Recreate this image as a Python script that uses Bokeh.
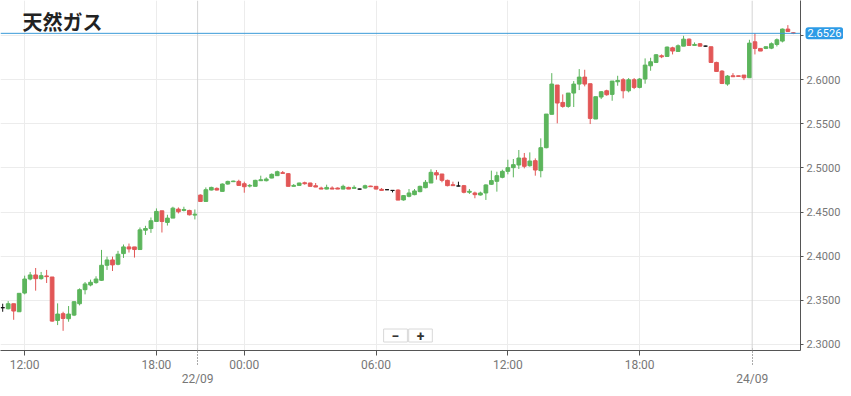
from bokeh.plotting import figure
from bokeh.models import (Range1d, FixedTicker, NumeralTickFormatter, Span, Label,
                          ColumnDataSource, LinearAxis)
from bokeh.embed import file_html
from bokeh.resources import INLINE

# ---- data (15-minute candles) ----
opens = [2.3417, 2.3405, 2.3462, 2.3371, 2.3583, 2.3742, 2.3788, 2.3746, 2.3777, 2.3765,
         2.3273, 2.3349, 2.3292, 2.3333, 2.3462, 2.3621, 2.3674, 2.3701, 2.3727, 2.3898,
         2.3958, 2.3909, 2.4030, 2.4106, 2.4106, 2.4076, 2.4295, 2.4314, 2.4394, 2.4515,
         2.4383, 2.4432, 2.4534, 2.4519, 2.4519, 2.4466, 2.4693, 2.4621, 2.4750, 2.4769,
         2.4735, 2.4818, 2.4845, 2.4848, 2.4822, 2.4795, 2.4792, 2.4856, 2.4856, 2.4886,
         2.4913, 2.4947, 2.4936, 2.4792, 2.4803, 2.4833, 2.4830, 2.4799, 2.4773, 2.4761,
         2.4773, 2.4773, 2.4761, 2.4780, 2.4769, 2.4761, 2.4773, 2.4795, 2.4792, 2.4758,
         2.4754, 2.4746, 2.4750, 2.4638, 2.4679, 2.4698, 2.4732, 2.4777, 2.4830, 2.4947,
         2.4932, 2.4860, 2.4811, 2.4796, 2.4800, 2.4725, 2.4717, 2.4694, 2.4717, 2.4815,
         2.4849, 2.4894, 2.4962, 2.5004, 2.5034, 2.5113, 2.5026, 2.5083, 2.4970, 2.5230,
         2.5608, 2.5940, 2.5743, 2.5698, 2.5849, 2.5951, 2.6030, 2.5955, 2.5555, 2.5804,
         2.5875, 2.5834, 2.5977, 2.6000, 2.5875, 2.6000, 2.5913, 2.6008, 2.6158, 2.6196,
         2.6272, 2.6264, 2.6362, 2.6321, 2.6381, 2.6460, 2.6389, 2.6408, 2.6381, 2.6374,
         2.6196, 2.6098, 2.5951, 2.6045, 2.6045, 2.6053, 2.6023, 2.6430, 2.6355, 2.6355,
         2.6358, 2.6400, 2.6438, 2.6574, 2.6532]
highs = [2.3462, 2.3492, 2.3462, 2.3580, 2.3780, 2.3822, 2.3867, 2.3822, 2.3845, 2.3765,
         2.3466, 2.3371, 2.3436, 2.3492, 2.3636, 2.3708, 2.3735, 2.3773, 2.4072, 2.3996,
         2.3996, 2.4061, 2.4133, 2.4144, 2.4106, 2.4326, 2.4345, 2.4439, 2.4542, 2.4515,
         2.4470, 2.4561, 2.4553, 2.4561, 2.4527, 2.4530, 2.4701, 2.4780, 2.4788, 2.4780,
         2.4826, 2.4856, 2.4856, 2.4867, 2.4845, 2.4818, 2.4867, 2.4913, 2.4894, 2.4939,
         2.4970, 2.4966, 2.4943, 2.4818, 2.4833, 2.4845, 2.4833, 2.4830, 2.4788, 2.4811,
         2.4792, 2.4780, 2.4811, 2.4788, 2.4803, 2.4765, 2.4811, 2.4799, 2.4795, 2.4773,
         2.4758, 2.4750, 2.4758, 2.4694, 2.4762, 2.4762, 2.4800, 2.4864, 2.4985, 2.4977,
         2.4932, 2.4868, 2.4845, 2.4845, 2.4808, 2.4762, 2.4732, 2.4732, 2.4815, 2.4970,
         2.4958, 2.4981, 2.5094, 2.5102, 2.5204, 2.5170, 2.5177, 2.5109, 2.5336, 2.5611,
         2.6075, 2.5940, 2.5834, 2.5849, 2.5985, 2.6121, 2.6113, 2.5955, 2.5808, 2.5872,
         2.5887, 2.5985, 2.6045, 2.6019, 2.6019, 2.6019, 2.6019, 2.6242, 2.6249, 2.6291,
         2.6287, 2.6377, 2.6374, 2.6400, 2.6498, 2.6468, 2.6423, 2.6415, 2.6385, 2.6374,
         2.6204, 2.6109, 2.6053, 2.6075, 2.6045, 2.6053, 2.6453, 2.6528, 2.6358, 2.6377,
         2.6423, 2.6468, 2.6581, 2.6619, 2.6536]
lows = [2.3371, 2.3398, 2.3280, 2.3371, 2.3568, 2.3727, 2.3610, 2.3735, 2.3697, 2.3258,
        2.3220, 2.3155, 2.3258, 2.3322, 2.3443, 2.3568, 2.3659, 2.3689, 2.3720, 2.3845,
        2.3833, 2.3898, 2.3981, 2.4042, 2.3985, 2.4076, 2.4242, 2.4265, 2.4394, 2.4269,
        2.4348, 2.4432, 2.4485, 2.4508, 2.4462, 2.4417, 2.4621, 2.4621, 2.4746, 2.4746,
        2.4735, 2.4811, 2.4841, 2.4799, 2.4720, 2.4780, 2.4792, 2.4856, 2.4848, 2.4883,
        2.4909, 2.4939, 2.4792, 2.4792, 2.4799, 2.4811, 2.4792, 2.4784, 2.4761, 2.4758,
        2.4761, 2.4761, 2.4758, 2.4761, 2.4769, 2.4758, 2.4765, 2.4788, 2.4758, 2.4746,
        2.4750, 2.4723, 2.4636, 2.4630, 2.4668, 2.4691, 2.4725, 2.4770, 2.4830, 2.4868,
        2.4838, 2.4792, 2.4800, 2.4792, 2.4713, 2.4706, 2.4657, 2.4687, 2.4638, 2.4808,
        2.4732, 2.4883, 2.4928, 2.4894, 2.4989, 2.4996, 2.5015, 2.4913, 2.4894, 2.5223,
        2.5608, 2.5506, 2.5683, 2.5683, 2.5691, 2.5883, 2.5925, 2.5498, 2.5555, 2.5781,
        2.5819, 2.5762, 2.5932, 2.5789, 2.5857, 2.5894, 2.5902, 2.5955, 2.6102, 2.6189,
        2.6245, 2.6264, 2.6287, 2.6317, 2.6381, 2.6385, 2.6389, 2.6377, 2.6377, 2.6196,
        2.6091, 2.5951, 2.5932, 2.6034, 2.6038, 2.5996, 2.6023, 2.6287, 2.6325, 2.6347,
        2.6347, 2.6377, 2.6423, 2.6543, 2.6517]
closes = [2.3417, 2.3462, 2.3379, 2.3580, 2.3742, 2.3788, 2.3746, 2.3780, 2.3769, 2.3265,
          2.3345, 2.3295, 2.3345, 2.3485, 2.3621, 2.3686, 2.3705, 2.3742, 2.3898, 2.3958,
          2.3902, 2.4023, 2.4106, 2.4083, 2.4076, 2.4299, 2.4314, 2.4402, 2.4508, 2.4394,
          2.4432, 2.4545, 2.4504, 2.4530, 2.4470, 2.4477, 2.4621, 2.4754, 2.4780, 2.4750,
          2.4818, 2.4848, 2.4852, 2.4803, 2.4788, 2.4803, 2.4860, 2.4867, 2.4875, 2.4928,
          2.4958, 2.4939, 2.4792, 2.4803, 2.4830, 2.4822, 2.4792, 2.4784, 2.4761, 2.4780,
          2.4761, 2.4761, 2.4792, 2.4761, 2.4780, 2.4761, 2.4799, 2.4788, 2.4761, 2.4746,
          2.4754, 2.4746, 2.4636, 2.4687, 2.4717, 2.4740, 2.4792, 2.4838, 2.4951, 2.4921,
          2.4860, 2.4800, 2.4800, 2.4796, 2.4725, 2.4736, 2.4698, 2.4717, 2.4808, 2.4857,
          2.4913, 2.4962, 2.5004, 2.5038, 2.5113, 2.5019, 2.5079, 2.4977, 2.5230, 2.5611,
          2.5951, 2.5736, 2.5698, 2.5849, 2.5951, 2.6030, 2.5951, 2.5562, 2.5808, 2.5864,
          2.5830, 2.5985, 2.5992, 2.5875, 2.6000, 2.5913, 2.6008, 2.6166, 2.6204, 2.6283,
          2.6260, 2.6370, 2.6325, 2.6385, 2.6460, 2.6389, 2.6400, 2.6381, 2.6381, 2.6196,
          2.6094, 2.5958, 2.6042, 2.6034, 2.6038, 2.6023, 2.6415, 2.6355, 2.6325, 2.6374,
          2.6408, 2.6453, 2.6574, 2.6547, 2.6526]

time_ticks = [4, 28, 44, 68, 92, 116]
time_labels = ["12:00", "18:00", "00:00", "06:00", "12:00", "18:00"]
date_ticks = [35.5, 136.5]
date_labels = ["22/09", "24/09"]
price_ticks = [2.30, 2.35, 2.40, 2.45, 2.50, 2.55, 2.60, 2.65]
title_text = "天然ガス"
last_price = 2.6526

GREEN = "#5cb55c"
RED = "#e25757"

idx = list(range(len(opens)))
colors = [GREEN if c > o else (RED if c < o else "#111111") for o, c in zip(opens, closes)]
src = ColumnDataSource(dict(
    x=idx, o=opens, h=highs, l=lows, c=closes,
    top=[max(o, c) for o, c in zip(opens, closes)],
    bottom=[min(o, c) for o, c in zip(opens, closes)],
    color=colors,
))

X_END = 145.3
p = figure(width=843, height=388, output_backend="svg", toolbar_location=None,
           x_range=Range1d(-0.4, X_END), y_range=Range1d(2.2932, 2.6898),
           y_axis_location="right",
           min_border_left=0, min_border_top=0, min_border_right=0, min_border_bottom=0)
p.outline_line_color = None
p.background_fill_color = "white"
p.border_fill_color = "white"

# grids
p.xgrid.grid_line_color = "#ececec"
p.ygrid.grid_line_color = "#ececec"

# axes
xa = p.xaxis[0]
ya = p.yaxis[0]
xa.ticker = FixedTicker(ticks=time_ticks)
xa.major_label_overrides = {t: l for t, l in zip(time_ticks, time_labels)}
ya.ticker = FixedTicker(ticks=price_ticks)
ya.formatter = NumeralTickFormatter(format="0.0000")
ya.major_label_overrides = {2.65: ""}

for ax in (xa, ya):
    ax.axis_line_color = "#555555"
    ax.major_tick_line_color = "#555555"
    ax.major_label_text_color = "#777777"
    ax.major_label_text_font = "Roboto"
    ax.major_tick_in = 0
    ax.minor_tick_line_color = None

xa.major_label_text_font_size = "12px"
xa.major_tick_out = 5
xa.minor_tick_out = 0
xa.major_label_standoff = 2

ya.major_label_text_font_size = "11px"
ya.major_tick_out = 3
ya.minor_tick_out = 0
ya.major_label_standoff = 3

# current price tag: lives in the bottom panel row (side panels are not clipped)
p.add_layout(Label(x=X_END, y=last_price, x_offset=5, text=f"{closes[-1]:.4f}",
                   text_baseline="middle", text_align="left", text_color="white",
                   text_font="Roboto", text_font_size="11px",
                   background_fill_color="#2d9be6", padding=2, border_radius=3),
             "below")

# date axis: drawn back up into the row above it, dotted ticks up to the x axis line
da = LinearAxis(ticker=FixedTicker(ticks=date_ticks),
                major_label_overrides={d: l for d, l in zip(date_ticks, date_labels)})
da.axis_line_color = None
da.major_tick_in = 39
da.major_tick_out = -22
da.minor_tick_in = 0
da.minor_tick_out = -22
da.major_tick_line_color = "#555555"
da.major_tick_line_dash = "1 2"
da.minor_tick_line_color = None
da.major_label_standoff = -15
da.major_label_text_color = "#777777"
da.major_label_text_font = "Roboto"
da.major_label_text_font_size = "12px"
p.add_layout(da, "below")

# date separators
for d in date_ticks:
    p.add_layout(Span(location=d, dimension="height", line_color="#d4d4d4", line_width=1))

# candles
p.segment(x0="x", y0="l", x1="x", y1="h", source=src, line_color="color", line_width=1)
p.vbar(x="x", width=0.68, top="top", bottom="bottom", source=src,
       fill_color="color", line_color="color", line_width=1)

# current price line
p.add_layout(Span(location=last_price, dimension="width", line_color="#3a9ad8", line_width=1))

# title
p.add_layout(Label(x=-0.4, y=2.6898, x_offset=22, y_offset=-6, text=title_text,
                   text_baseline="top", text_align="left", text_font="Noto Sans CJK JP",
                   text_font_style="bold", text_font_size="20px", text_color="#222222",
                   level="overlay"))

# zoom buttons
for cx, sym in ((395, "\u2212"), (420, "+")):
    p.add_layout(Label(x=cx, y=15, x_units="screen", y_units="screen", text=sym,
                       text_align="center", text_baseline="middle",
                       text_font="Roboto", text_font_style="bold", text_font_size="14px",
                       text_color="#333333", background_fill_color="white",
                       border_line_color="#d8d8d8",
                       padding=dict(left=8, right=8, top=1, bottom=1),
                       level="overlay"))

open("out.html", "w").write(file_html(p, INLINE))
